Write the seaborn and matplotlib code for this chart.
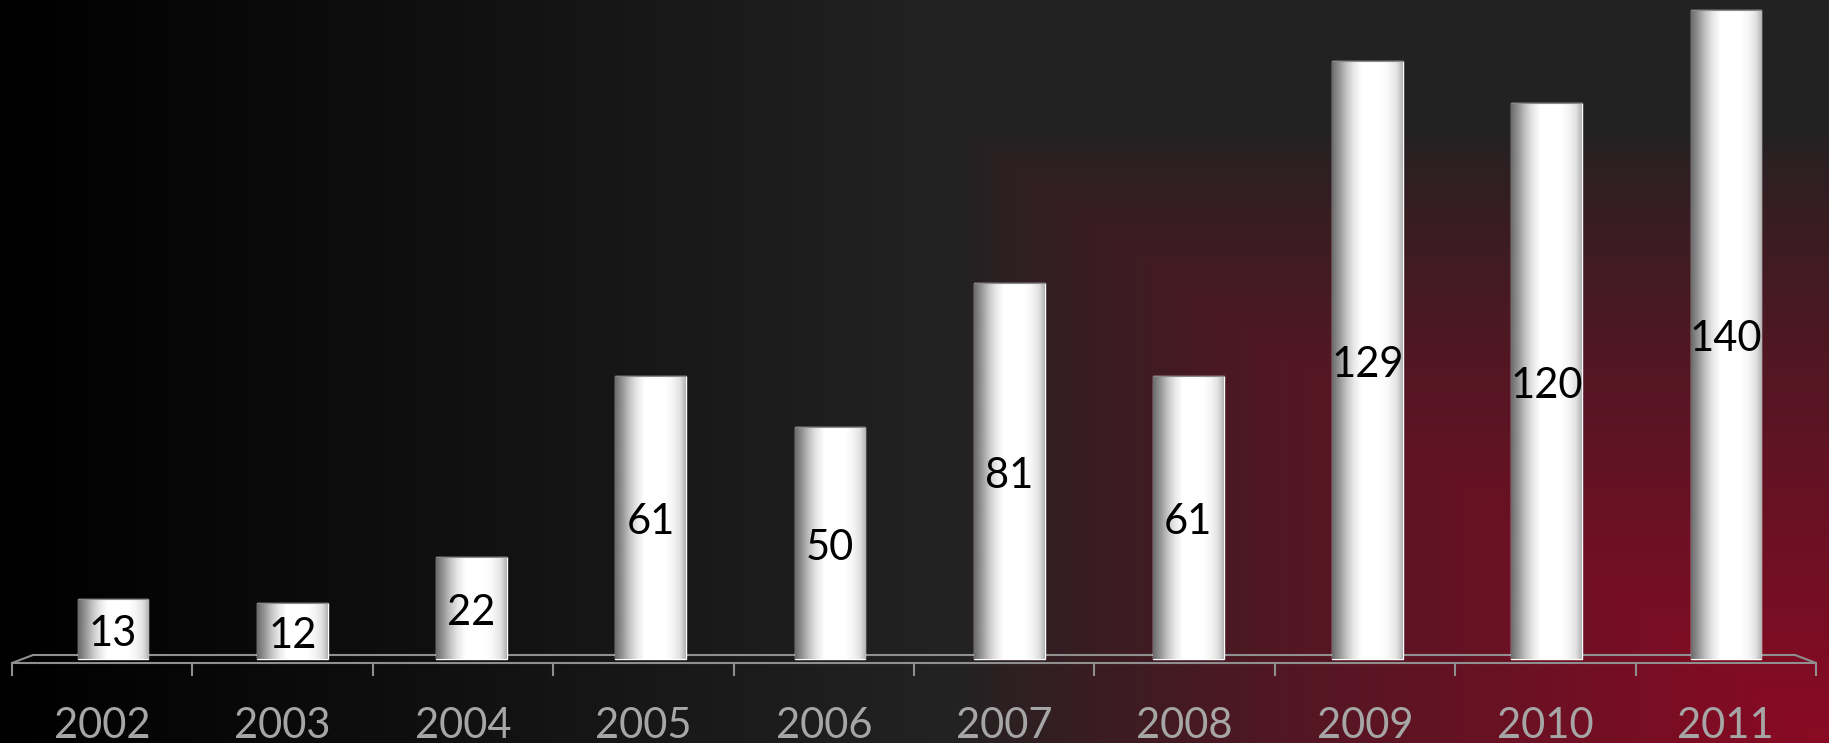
import numpy as np
import pandas as pd
import matplotlib.pyplot as plt
import seaborn as sns

# data
years = ["2002", "2003", "2004", "2005", "2006", "2007", "2008", "2009", "2010", "2011"]
counts = [13, 12, 22, 61, 50, 81, 61, 129, 120, 140]

df = pd.DataFrame({"year": years, "count": counts})

sns.set_style("white")
plt.rcParams["font.family"] = ["Lato", "DejaVu Sans"]

W, H = 1829, 743
fig = plt.figure(figsize=(W / 100, H / 100), dpi=100)

# background: black -> dark gray from the left, red glow from the bottom right
xx, yy = np.meshgrid(np.arange(W), np.arange(H))
base = 34 * np.clip(xx / 930, 0, 1)
u = np.clip((xx - 960) / (W - 960), 0, 1)
v = np.clip((yy - 130) / (H - 130), 0, 1)
c = np.minimum(u, v) ** 0.8
red = np.array([138, 10, 36])
bg = np.stack([base + c * (red[i] - base) for i in range(3)], axis=-1) / 255
bg_ax = fig.add_axes([0, 0, 1, 1])
bg_ax.imshow(bg, aspect="auto", interpolation="bilinear")
bg_ax.axis("off")

pos = [12 / W, 80 / H, 1804 / W, 663 / H]
ylim = (-0.863, 142.15)

# floor axes: the 3d floor, category ticks and year labels
floor = "#8f8f8f"
fax = fig.add_axes(pos)
fax.patch.set_alpha(0)
fax.set_xlim(-0.5, 9.5)
fax.set_ylim(*ylim)
d = 21 / 180.4
back = 0.863
fax.plot([-0.5 + d, 9.5 - d], [back, back], color=floor, lw=1.5, clip_on=False)
fax.plot([-0.5, -0.5 + d], [ylim[0], back], color=floor, lw=1.5, clip_on=False)
fax.plot([9.5, 9.5 - d], [ylim[0], back], color=floor, lw=1.5, clip_on=False)
for s in ["top", "left", "right"]:
    fax.spines[s].set_visible(False)
fax.spines["bottom"].set_color(floor)
fax.spines["bottom"].set_linewidth(1.5)
fax.set_yticks([])
fax.set_xticks(range(len(years)), years)
fax.set_xticks(np.arange(-0.5, 10, 1), minor=True)
fax.tick_params(axis="x", which="minor", bottom=True, length=9.5, width=1.5,
                color=floor, direction="out")
fax.tick_params(axis="x", which="major", bottom=True, length=0, pad=31.5,
                labelsize=30, labelcolor="#a6a6a6")

# bar axes (bars sit a little tighter than the floor because of perspective)
ax = fig.add_axes(pos)
ax.patch.set_alpha(0)
sns.barplot(data=df, x="year", y="count", color="white", saturation=1,
            width=0.395, ax=ax, zorder=2)
ax.axis("off")

# cylinder shading on each bar
stops = [0.0, 0.1, 0.2, 0.3, 0.42, 0.7, 0.82, 0.92, 1.0]
grays = [0.42, 0.58, 0.76, 0.9, 1.0, 1.0, 0.96, 0.88, 0.7]
shade = np.interp(np.linspace(0, 1, 200), stops, grays)
shade_img = np.tile(shade, (2, 1))
for p in ax.patches:
    x0, w, h = p.get_x(), p.get_width(), p.get_height()
    im = ax.imshow(shade_img, cmap="gray", vmin=0, vmax=1, aspect="auto",
                   extent=(x0, x0 + w, 0, h), zorder=2.5, interpolation="bilinear")
    im.set_clip_path(p)
    ax.plot([x0, x0 + w], [h, h], color="#8a8a8a", lw=0.8, zorder=2.6)
ax.set_xlim(-0.5636, 9.502)
ax.set_ylim(*ylim)

for cont in ax.containers:
    texts = ax.bar_label(cont, labels=[str(n) for n in counts], label_type="center",
                         fontsize=30, color="black", zorder=3)
    for t in texts:
        t.xyann = (0, -3.5)

fig.savefig("out.png", dpi=100)
